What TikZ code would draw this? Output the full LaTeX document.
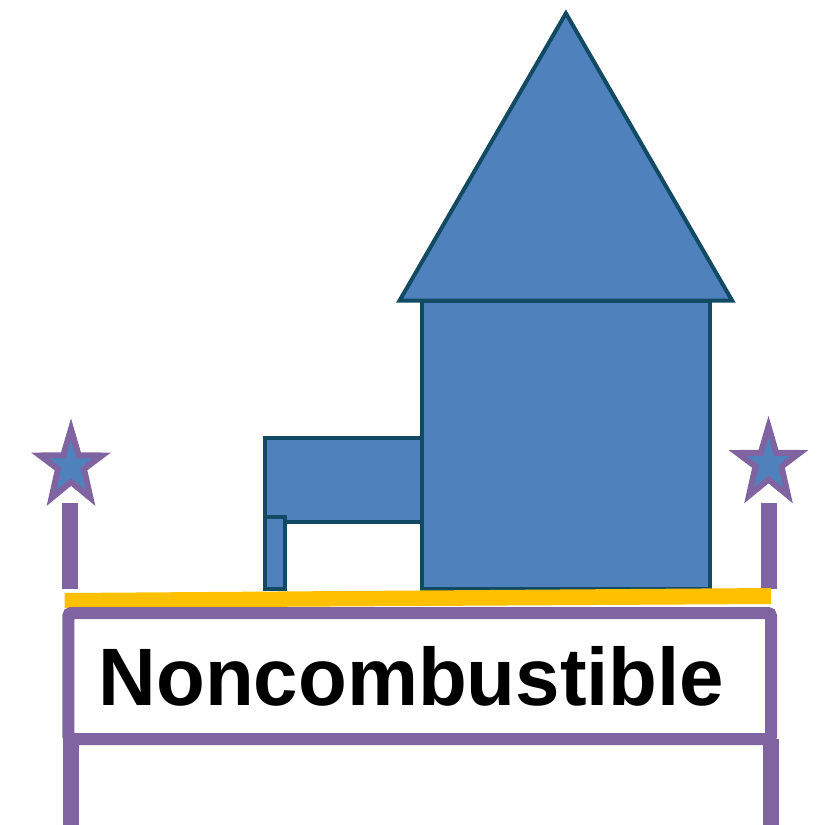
\documentclass[tikz,border=0pt]{standalone}
\usepackage{fontspec}
\setmainfont{Liberation Sans}
\definecolor{houseblue}{HTML}{4F81BD}
\definecolor{houseline}{HTML}{124A63}
\definecolor{signpurple}{HTML}{8064A2}
\definecolor{slabyellow}{HTML}{FFC000}
\tikzset{
	house/.style={fill=houseblue, draw=houseline, line width=4pt, miter limit=10},
	post/.style={fill=signpurple},
	starmark/.style={fill=houseblue, draw=signpurple, line width=6pt, miter limit=10},
}
\begin{document}
\begin{tikzpicture}[x=1pt, y=-1pt]
	\useasboundingbox (0,0) rectangle (819,825);
	% stars on posts
	\foreach \dx/\dy in {0/0, 697.5/-2.5} {
		\draw[starmark, shift={(\dx,\dy)}] (71,429) -- (78.7,455.3) -- (102,455.5) -- (84,469) -- (90.5,498) -- (71,482) -- (51.5,498) -- (58,469) -- (40,455.5) -- (63.3,455.3) -- cycle;
	}
	\fill[post] (62.3,503) rectangle (78.3,589);
	\fill[post] (761,503) rectangle (777,589);
	% house
	\draw[house] (265.3,438) rectangle (422,522);
	\draw[house] (265.3,517) rectangle (285,589);
	\draw[house] (422,301) rectangle (710,589);
	\draw[house] (565.9,13.3) -- (732.2,300.7) -- (399.5,300.7) -- cycle;
	% slab and sign
	\fill[slabyellow] (64.5,593) -- (771,588) -- (771,604) -- (64.5,608) -- cycle;
	\fill[post] (63.3,739) rectangle (79,825);
	\fill[post] (763,739) rectangle (779,825);
	\draw[signpurple, line width=12pt, rounded corners=3pt] (68.3,613) rectangle (771,739);
	\node[anchor=base west, inner sep=0pt, xscale=0.98, font=\fontsize{81.5}{90}\selectfont\bfseries] (signlabel) at (98.5,705.7) {Noncombustible};
\end{tikzpicture}
\end{document}
